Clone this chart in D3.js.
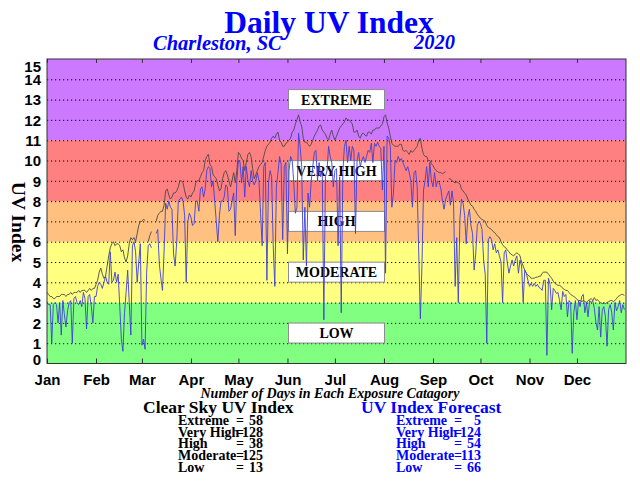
<!DOCTYPE html>
<html>
<head>
<meta charset="utf-8">
<script src="https://cdn.jsdelivr.net/npm/d3@7"></script>
<style>
body { margin: 0; background: #fff; }
svg { font-family: "Liberation Serif", "Times New Roman", serif; font-weight: bold; }
</style>
</head>
<body>
<svg id="svg" width="640" height="482"></svg>
<script>
// daily values, one array per month
var clearJan = [3.5,3.4,3.3,3.3,3.2,3.2,3.3,3.3,3.3,3.4,3.4,3.4,3.3,3.4,3.4,3.5,3.4,3.5,3.5,3.5,3.6,3.5,3.6,3.6,3.6,3.5,3.6,3.7,3.6,3.7,3.7];
var clearFeb = [3.9,4.1,4.5,4.7,4.4,4.2,4.3,4.8,5.3,5.7,5.9,6.0,5.8,5.9,5.9,5.8,5.5,5.6,5.2,5.0,5.3,5.9,6.2,6.1,6.2,6.0,6.4,6.8,7.0];
var clearMar = [7.0,7.1,7.05,null,6.0,6.3,6.5,null,null,7.0,7.3,7.4,7.5,7.5,7.8,8.5,8.6,8.3,8.1,8.2,8.4,8.4,8.5,8.7,9.0,9.0,8.9,8.5,8.2,8.1,8.3];
var clearApr = [8.2,8.4,8.5,8.9,9.0,9.0,9.2,9.4,9.5,10.0,10.2,10.3,9.8,9.7,9.3,9.2,9.1,8.8,8.5,8.6,9.1,9.4,9.5,9.3,9.0,8.7,9.0,9.4,8.9,9.5];
var clearMay = [10.4,10.3,10.1,10.0,9.5,9.9,10.3,10.4,10.2,9.6,9.1,9.3,9.5,9.7,9.8,9.9,10.2,10.5,10.7,10.8,10.9,11.1,11.2,11.1,11.3,11.4,11.0,10.9,10.7,10.7,10.85];
var clearJun = [10.9,11.0,11.1,11.4,11.5,11.8,12.0,12.25,11.9,11.7,11.1,10.9,10.9,10.8,10.7,10.8,11.0,11.2,11.35,11.5,11.7,11.75,11.5,11.4,11.3,11.1,11.0,11.3,11.5,11.2];
var clearJul = [11.0,11.2,11.4,11.6,11.7,11.8,11.9,12.1,12.0,12.0,11.9,11.8,11.4,11.4,11.5,11.2,11.1,11.3,11.35,11.25,11.2,11.4,11.4,11.3,11.5,11.5,11.6,11.6,11.6,11.7,11.8];
var clearAug = [12.15,12.25,11.85,11.6,11.2,10.85,10.75,10.7,10.7,10.7,10.8,10.8,10.5,10.45,10.5,10.4,10.3,10.5,10.4,10.5,10.6,10.7,11.0,11.1,10.6,10.3,10.2,10.2,10.0,10.0,9.85];
var clearSep = [9.75,9.6,9.5,9.45,9.4,9.4,9.35,9.4,9.45,null,9.1,9.1,9.0,8.95,8.9,8.95,8.9,8.85,8.6,8.5,8.4,8.3,8.1,7.95,7.8,7.75,7.6,7.5,7.35,7.25];
var clearOct = [7.15,7.1,7.05,7.0,6.8,6.7,6.65,6.6,6.5,6.45,6.35,6.25,6.2,6.0,5.85,5.75,5.7,5.6,5.5,5.4,5.35,5.3,5.4,5.45,5.4,5.3,5.0,4.8,4.6,4.45,4.35];
var clearNov = [4.3,4.2,4.2,4.2,4.25,4.25,4.3,4.3,4.45,4.5,4.5,4.5,4.4,4.3,4.2,4.05,3.95,3.9,3.85,3.85,3.8,3.7,3.65,3.6,3.6,3.5,3.4,3.35,3.3,3.25];
var clearDec = [3.15,3.1,3.1,3.05,3.1,3.05,3.0,3.1,3.15,3.2,3.1,3.25,3.1,3.15,3.05,3.0,2.95,3.0,2.95,3.0,3.05,3.1,3.1,3.05,3.1,3.2,3.3,3.35,3.4,3.4,3.35];

var fcJan = [3.0,2.9,2.9,1.0,2.9,3.0,2.9,2.0,3.0,1.4,3.1,2.4,1.8,2.6,3.0,3.1,1.0,3.2,3.3,3.0,2.9,3.1,2.8,3.5,3.2,1.7,3.3,3.4,2.8,2.0,3.3];
var fcFeb = [3.3,3.8,4.0,3.9,3.7,4.0,4.3,4.0,3.9,5.5,4.0,4.1,4.5,4.0,4.4,2.8,1.2,0.6,2.5,3.5,4.6,3.0,1.4,5.8,6.0,5.5,4.0,5.0,5.9];
var fcMar = [0.9,1.2,0.7,4.5,5.8,5.9,5.7,null,null,6.4,6.6,4.9,4.2,3.6,5.5,7.9,7.6,8.0,7.7,7.6,5.4,4.8,6.0,8.0,8.1,8.2,8.0,7.3,4.0,7.0,7.4];
var fcApr = [7.2,6.8,6.9,8.0,8.0,7.5,8.6,8.7,8.2,8.6,9.5,9.7,9.6,8.7,9.0,8.0,7.0,6.0,7.3,8.0,8.0,8.2,8.8,8.7,7.5,7.6,8.0,8.4,6.3,9.0];
var fcMay = [10.0,9.9,8.9,9.7,8.2,9.7,9.0,8.7,9.5,9.0,8.8,9.0,9.4,9.0,7.4,5.8,9.7,9.9,4.1,8.9,9.5,9.2,5.8,3.8,8.7,9.4,10.2,9.8,6.1,9.7,9.9];
var fcJun = [5.4,9.5,10.2,10.0,8.9,7.4,7.7,11.35,10.7,9.7,5.1,7.7,4.8,8.4,7.7,9.0,9.7,10.4,10.5,9.0,9.9,9.2,9.5,2.15,9.2,9.5,10.7,10.2,9.9,8.7];
var fcJul = [9.5,9.6,5.8,9.2,2.5,9.4,10.7,11.0,9.9,10.7,10.0,10.7,10.5,6.4,10.0,10.4,9.7,10.0,10.2,9.9,10.2,10.5,10.4,10.85,9.9,10.85,10.7,10.9,10.7,10.6,8.55];
var fcAug = [10.7,4.45,11.2,11.1,10.7,7.7,8.4,10.0,9.9,10.2,10.0,10.1,9.9,9.7,9.5,9.7,9.4,9.0,7.7,9.4,9.5,8.7,5.4,2.2,4.8,8.55,9.0,9.7,8.7,9.9,9.0];
var fcSep = [8.7,9.4,8.7,9.0,8.9,8.6,8.0,7.6,8.1,8.3,8.5,7.8,8.5,7.9,3.8,6.2,3.0,7.1,8.1,7.9,7.3,5.9,7.2,7.6,6.8,6.4,4.6,5.4,6.8,7.0];
var fcOct = [6.9,6.6,5.1,4.4,1.0,6.1,6.25,6.1,5.6,5.9,5.45,5.6,5.3,5.0,3.0,5.45,5.6,4.95,4.45,4.8,5.1,4.8,5.1,5.3,4.45,5.1,4.8,3.0,4.6,4.45,4.1];
var fcNov = [3.8,3.95,3.8,3.95,3.8,3.9,3.75,3.7,3.6,4.1,4.1,0.4,4.2,3.9,2.65,3.7,3.6,3.45,3.5,3.1,2.65,3.55,3.3,3.4,2.3,3.1,3.0,0.5,2.5,3.1];
var fcDec = [2.15,3.1,2.8,3.3,3.4,2.5,3.0,2.3,3.1,3.0,3.1,2.7,2.0,1.65,2.8,1.3,2.65,2.8,2.3,0.85,2.65,2.9,2.5,1.65,3.0,2.6,2.8,3.1,2.5,2.9,2.65];

var clearSky = [].concat(clearJan, clearFeb, clearMar, clearApr, clearMay, clearJun,
    clearJul, clearAug, clearSep, clearOct, clearNov, clearDec);
var forecast = [].concat(fcJan, fcFeb, fcMar, fcApr, fcMay, fcJun,
    fcJul, fcAug, fcSep, fcOct, fcNov, fcDec);

var yTicks = [0,1,2,3,4,5,6,7,8,9,10,11,12,13,14,15];
var gridValues = [1,2,3,4,5,6,7,8,9,10,11,12,13,14];

var bandNames = ["LOW", "MODERATE", "HIGH", "VERY HIGH", "EXTREME"];
var bandLow = [0, 3, 6, 8, 11];
var bandHigh = [3, 6, 8, 11, 15];
var bandLabelAt = [1.5, 4.5, 7, 9.5, 13];
var bandColors = ["#80ff80", "#ffff80", "#ffc080", "#ff8080", "#cc78ff"];

var legendNames = ["Extreme", "Very High", "High", "Moderate", "Low"];
var clearCounts = [58, 128, 38, 125, 13];
var forecastCounts = [5, 124, 54, 113, 66];

var svg = d3.select("svg");
var start = new Date(2020, 0, 1);
var monthStarts = d3.timeMonths(start, new Date(2020, 11, 2));

var x = d3.scaleTime()
    .domain([start, new Date(2021, 0, 1)])
    .range([47, 626]);
var y = d3.scaleLinear()
    .domain([0, 15])
    .range([363.5, 59]);

function dayDate(i) { return d3.timeDay.offset(start, i); }

// coloured exposure bands
svg.append("g").selectAll("rect")
    .data(bandNames)
    .enter().append("rect")
    .attr("x", x.range()[0])
    .attr("width", x.range()[1] - x.range()[0])
    .attr("y", function (d, i) { return y(bandHigh[i]); })
    .attr("height", function (d, i) { return y(bandLow[i]) - y(bandHigh[i]); })
    .attr("fill", function (d, i) { return bandColors[i]; });

// dotted grid
svg.append("g").selectAll("line")
    .data(gridValues)
    .enter().append("line")
    .attr("x1", 47).attr("x2", 626)
    .attr("y1", function (d) { return y(d) + 0.5; })
    .attr("y2", function (d) { return y(d) + 0.5; })
    .attr("stroke", "#000")
    .attr("stroke-width", 1)
    .attr("stroke-dasharray", "1.2,2.8");

// category boxes
var boxes = svg.append("g").selectAll("g")
    .data(bandNames)
    .enter().append("g");
boxes.append("rect")
    .attr("x", 288.5).attr("width", 96)
    .attr("y", function (d, i) { return y(bandLabelAt[i]) - 10; })
    .attr("height", 20)
    .attr("fill", "#fff")
    .attr("stroke", "#8c8c8c");
boxes.append("text")
    .attr("x", 336.5)
    .attr("y", function (d, i) { return y(bandLabelAt[i]) + 5; })
    .attr("text-anchor", "middle")
    .attr("font-size", 14)
    .text(function (d) { return d; });

var line = d3.line()
    .defined(function (d) { return d != null; })
    .x(function (d, i) { return x(dayDate(i)); })
    .y(function (d) { return y(d); });

svg.append("path")
    .datum(clearSky)
    .attr("d", line)
    .attr("fill", "none")
    .attr("stroke", "#4a4a4a")
    .attr("stroke-width", 0.9);

svg.append("path")
    .datum(forecast)
    .attr("d", line)
    .attr("fill", "none")
    .attr("stroke", "#4040d8")
    .attr("stroke-width", 0.9);

// axes
var xAxis = d3.axisBottom(x)
    .tickValues(monthStarts)
    .tickFormat(d3.timeFormat("%b"))
    .tickSizeInner(-5)
    .tickSizeOuter(0)
    .tickPadding(11);
var gx = svg.append("g")
    .attr("transform", "translate(0,363.5)")
    .call(xAxis);
gx.selectAll("text").attr("font-size", 15).attr("fill", "#000");

var topAxis = d3.axisTop(x)
    .tickValues(monthStarts)
    .tickFormat("")
    .tickSizeInner(-4)
    .tickSizeOuter(0);
svg.append("g")
    .attr("transform", "translate(0,59)")
    .call(topAxis);

var yAxis = d3.axisLeft(y)
    .tickValues(yTicks)
    .tickSize(0)
    .tickPadding(6);
var gy = svg.append("g")
    .attr("transform", "translate(47,0)")
    .call(yAxis);
gy.selectAll("text")
    .attr("font-size", 15)
    .attr("fill", "#000")
    .attr("dy", function (d) { return d == 15 ? "0.85em" : (d == 0 ? "0.05em" : "0.35em"); });

svg.selectAll(".domain").remove();
svg.selectAll(".tick line").attr("stroke", "#333");

// frame
svg.append("rect")
    .attr("x", 47).attr("y", 59)
    .attr("width", 579).attr("height", 304.5)
    .attr("fill", "none")
    .attr("stroke", "#333")
    .attr("stroke-width", 1);

svg.append("text")
    .attr("transform", "translate(12,222) rotate(90)")
    .attr("text-anchor", "middle")
    .attr("font-size", 19.5)
    .text("UV Index");

// titles
svg.append("text")
    .attr("x", 329).attr("y", 33)
    .attr("text-anchor", "middle")
    .attr("font-size", 31.5)
    .attr("fill", "#0000ff")
    .text("Daily UV Index");
svg.append("text")
    .attr("x", 153).attr("y", 50)
    .attr("font-size", 20.5)
    .attr("font-style", "italic")
    .attr("fill", "#0000ff")
    .text("Charleston, SC");
svg.append("text")
    .attr("x", 455).attr("y", 49)
    .attr("text-anchor", "end")
    .attr("font-size", 20.5)
    .attr("font-style", "italic")
    .attr("fill", "#0000ff")
    .text("2020");

svg.append("text")
    .attr("x", 330).attr("y", 398)
    .attr("text-anchor", "middle")
    .attr("font-size", 14)
    .attr("font-style", "italic")
    .text("Number of Days in Each Exposure Catagory");

function legend(title, counts, x0, color) {
    var g = svg.append("g").attr("fill", color);
    g.append("text")
        .attr("x", x0 - 35).attr("y", 413)
        .attr("font-size", 17.5)
        .text(title);
    legendNames.forEach(function (name, i) {
        var yy = 425 + i * 11.7;
        g.append("text").attr("x", x0).attr("y", yy).attr("font-size", 14).text(name);
        g.append("text").attr("x", x0 + 58).attr("y", yy).attr("font-size", 14).text("=");
        g.append("text").attr("x", x0 + 85).attr("y", yy).attr("font-size", 14)
            .attr("text-anchor", "end").text(counts[i]);
    });
}
legend("Clear Sky UV Index", clearCounts, 178, "#000");
legend("UV Index Forecast", forecastCounts, 396, "#0000ff");
</script>
</body>
</html>
